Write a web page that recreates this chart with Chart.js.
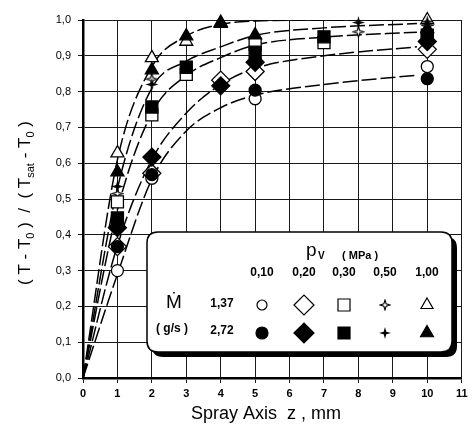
<!DOCTYPE html>
<html>
<head>
<meta charset="utf-8">
<script src="https://cdn.jsdelivr.net/npm/chart.js@4.4.1/dist/chart.umd.min.js"></script>
<style>
  html, body { margin: 0; padding: 0; background: #fff; }
  #wrap { width: 472px; height: 429px; }
</style>
</head>
<body>
<div id="wrap"><canvas id="chart" width="472" height="429"></canvas></div>
<script>
// tick labels
const xTickLabels = ['0', '1', '2', '3', '4', '5', '6', '7', '8', '9', '10', '11'];
const yTickLabels = ['0,0', '0,1', '0,2', '0,3', '0,4', '0,5', '0,6', '0,7', '0,8', '0,9', '1,0'];

// legend labels
const pressureLabels = ['0,10', '0,20', '0,30', '0,50', '1,00'];
const flowLabels = ['1,37', '2,72'];

// measured points, z in mm -> (T - T0)/(Tsat - T0)
const zCircleOpen = [1, 2, 5, 10];
const vCircleOpen = [0.30, 0.558, 0.78, 0.87];
const zCircleFilled = [1, 2, 5, 10];
const vCircleFilled = [0.367, 0.568, 0.804, 0.836];

const zDiamondOpen = [1, 2, 4, 5, 10];
const vDiamondOpen = [0.367, 0.572, 0.832, 0.856, 0.918];
const zDiamondFilled = [1, 2, 4, 5, 10];
const vDiamondFilled = [0.42, 0.617, 0.816, 0.882, 0.94];

const zSquareOpen = [1, 2, 3, 5, 7, 10];
const vSquareOpen = [0.492, 0.735, 0.848, 0.932, 0.937, 0.95];
const zSquareFilled = [1, 2, 3, 5, 7, 10];
const vSquareFilled = [0.447, 0.757, 0.868, 0.91, 0.953, 0.958];

const zStarOpen = [1, 2, 8, 10];
const vStarOpen = [0.515, 0.835, 0.967, 0.985];
const zStarFilled = [1, 2, 8, 10];
const vStarFilled = [0.535, 0.82, 0.993, 0.995];

const zTriangleOpen = [1, 2, 3, 4, 10];
const vTriangleOpen = [0.628, 0.894, 0.94, 0.99, 1.0];
const zTriangleFilled = [1, 2, 3, 4, 5, 10];
const vTriangleFilled = [0.575, 0.86, 0.955, 0.993, 0.958, 0.975];

// dashed fit curves
const curveZ = [0, 1, 2, 3, 4, 5, 7, 9.7];
const curveP010 = [0, 0.29, 0.555, 0.69, 0.755, 0.79, 0.82, 0.846];
const curveP020 = [0, 0.37, 0.61, 0.74, 0.82, 0.865, 0.90, 0.925];
const curveP030 = [0, 0.47, 0.74, 0.845, 0.895, 0.93, 0.952, 0.966];
const curveP050 = [0, 0.53, 0.81, 0.885, 0.925, 0.957, 0.978, 0.99];
const curveP100 = [0, 0.61, 0.87, 0.955, 0.988, 0.997, 1.0, 1.0];

const FONT = '"Liberation Sans", Arial, "DejaVu Sans", sans-serif';

function pts(zs, vs) {
  return zs.map((z, i) => ({ x: z, y: vs[i] }));
}

// 4-pointed star marker as a small canvas
function makeStar(size, filled) {
  const c = document.createElement('canvas');
  c.width = c.height = size;
  const g = c.getContext('2d');
  const m = size / 2, R = size / 2 - 1, r = R * (filled ? 0.3 : 0.33);
  g.beginPath();
  for (let i = 0; i < 8; i++) {
    const a = i * Math.PI / 4 - Math.PI / 2;
    const rr = i % 2 ? r : R;
    g.lineTo(m + rr * Math.cos(a), m + rr * Math.sin(a));
  }
  g.closePath();
  if (filled) {
    g.fillStyle = '#000';
    g.fill();
  } else {
    g.fillStyle = '#fff';
    g.fill();
    g.strokeStyle = '#000';
    g.lineWidth = 1.1;
    g.stroke();
  }
  return c;
}

const starOpen = makeStar(13, false);
const starFilled = makeStar(15, true);
const starOpenSmall = makeStar(12, false);
const starFilledSmall = makeStar(14, true);

function markerSet(zs, vs, style, filled, radius) {
  return {
    type: 'scatter',
    data: pts(zs, vs),
    pointStyle: style,
    pointRadius: radius,
    pointBackgroundColor: filled ? '#000' : '#fff',
    pointBorderColor: '#000',
    pointBorderWidth: 1.3,
    showLine: false,
    clip: 12,
    order: 1
  };
}

function curveSet(vs) {
  return {
    type: 'scatter',
    data: pts(curveZ, vs),
    showLine: true,
    borderColor: '#000',
    borderWidth: 1.5,
    borderDash: [15, 4],
    cubicInterpolationMode: 'monotone',
    pointRadius: 0,
    fill: false,
    order: 2
  };
}

const datasets = [
  curveSet(curveP010), curveSet(curveP020), curveSet(curveP030),
  curveSet(curveP050), curveSet(curveP100),
  markerSet(zCircleFilled, vCircleFilled, 'circle', true, 6),
  markerSet(zDiamondFilled, vDiamondFilled, 'rectRot', true, 9),
  markerSet(zSquareFilled, vSquareFilled, 'rect', true, 8.5),
  markerSet(zStarFilled, vStarFilled, starFilled, true, 7),
  markerSet(zTriangleFilled, vTriangleFilled, 'triangle', true, 7.5),
  markerSet(zCircleOpen, vCircleOpen, 'circle', false, 6),
  markerSet(zDiamondOpen, vDiamondOpen, 'rectRot', false, 9),
  markerSet(zSquareOpen, vSquareOpen, 'rect', false, 8.5),
  markerSet(zStarOpen, vStarOpen, starOpen, false, 6),
  markerSet(zTriangleOpen, vTriangleOpen, 'triangle', false, 7.5)
];

function roundRectPath(ctx, x, y, w, h, r) {
  ctx.beginPath();
  ctx.moveTo(x + r, y);
  ctx.lineTo(x + w - r, y);
  ctx.quadraticCurveTo(x + w, y, x + w, y + r);
  ctx.lineTo(x + w, y + h - r);
  ctx.quadraticCurveTo(x + w, y + h, x + w - r, y + h);
  ctx.lineTo(x + r, y + h);
  ctx.quadraticCurveTo(x, y + h, x, y + h - r);
  ctx.lineTo(x, y + r);
  ctx.quadraticCurveTo(x, y, x + r, y);
  ctx.closePath();
}

function legendMarker(ctx, style, filled, x, y, r) {
  ctx.save();
  ctx.fillStyle = filled ? '#000' : '#fff';
  ctx.strokeStyle = '#000';
  ctx.lineWidth = 1.2;
  Chart.helpers.drawPoint(ctx, { pointStyle: style, radius: r, rotation: 0, borderWidth: 1.2 }, x, y);
  ctx.restore();
}

// draws axis titles (with subscripts) and the boxed key
const annotations = {
  id: 'annotations',
  afterDraw(chart) {
    const ctx = chart.ctx;
    ctx.save();
    ctx.fillStyle = '#000';

    // y title, rotated
    const parts = [
      ['( T - T', 17, 0], ['0', 11, 4], [' )  /  ( T', 17, 0], ['sat', 11, 4],
      [' - T', 17, 0], ['0', 11, 4], [' )', 17, 0]
    ];
    let total = 0;
    parts.forEach(p => { ctx.font = p[1] + 'px ' + FONT; total += ctx.measureText(p[0]).width; });
    ctx.translate(24, 203);
    ctx.rotate(-Math.PI / 2);
    ctx.textBaseline = 'alphabetic';
    ctx.textAlign = 'left';
    let px = -total / 2;
    parts.forEach(p => {
      ctx.font = p[1] + 'px ' + FONT;
      ctx.fillText(p[0], px, 6 + p[2]);
      px += ctx.measureText(p[0]).width;
    });
    ctx.setTransform(1, 0, 0, 1, 0, 0);

    // x title
    ctx.font = '18px ' + FONT;
    ctx.textAlign = 'center';
    ctx.textBaseline = 'middle';
    ctx.fillText('Spray Axis  z , mm', 266, 414);

    // key box with shadow
    const bx = 147, by = 232, bw = 305, bh = 120;
    ctx.fillStyle = '#000';
    roundRectPath(ctx, bx + 5, by + 5, bw, bh, 11);
    ctx.fill();
    ctx.fillStyle = '#fff';
    roundRectPath(ctx, bx, by, bw, bh, 11);
    ctx.fill();
    ctx.strokeStyle = '#000';
    ctx.lineWidth = 1.5;
    ctx.stroke();

    ctx.fillStyle = '#000';
    ctx.textAlign = 'left';
    ctx.textBaseline = 'alphabetic';
    ctx.font = '19px ' + FONT;
    ctx.fillText('p', 306, 256);
    ctx.font = 'bold 10px ' + FONT;
    ctx.fillText('V', 318, 259);
    ctx.font = 'bold 11px ' + FONT;
    ctx.fillText('( MPa )', 342, 259);

    const colX = [262, 304, 344, 385, 427];
    ctx.font = 'bold 12px ' + FONT;
    ctx.textAlign = 'center';
    ctx.textBaseline = 'middle';
    pressureLabels.forEach((t, i) => ctx.fillText(t, colX[i], 273));

    const rowY = [305, 333];
    ctx.fillText(flowLabels[0], 222, 304);
    ctx.fillText(flowLabels[1], 222, 331);
    ctx.fillText('( g/s )', 172, 329);
    ctx.font = '19px ' + FONT;
    ctx.fillText('\u1E40', 174, 303);

    const styles = ['circle', 'rectRot', 'rect', null, 'triangle'];
    const openR = [5, 10, 8.5, 0, 7];
    const fillR = [6, 10, 8.5, 0, 7.5];
    styles.forEach((s, i) => {
      if (s) {
        legendMarker(ctx, s, false, colX[i], rowY[0], openR[i]);
        legendMarker(ctx, s, true, colX[i], rowY[1], fillR[i]);
      } else {
        ctx.drawImage(starOpenSmall, colX[i] - starOpenSmall.width / 2, rowY[0] - starOpenSmall.height / 2);
        ctx.drawImage(starFilledSmall, colX[i] - starFilledSmall.width / 2, rowY[1] - starFilledSmall.height / 2);
      }
    });
    ctx.restore();
  }
};

new Chart(document.getElementById('chart'), {
  type: 'scatter',
  data: { datasets: datasets },
  options: {
    responsive: false,
    devicePixelRatio: 1,
    animation: false,
    layout: { padding: { left: 0, right: 10, top: 20, bottom: 0 } },
    plugins: {
      legend: { display: false },
      tooltip: { enabled: false }
    },
    scales: {
      x: {
        type: 'linear',
        min: 0,
        max: 11,
        afterFit: s => { s.height = 51; },
        afterBuildTicks: s => { s.ticks = xTickLabels.map((t, i) => ({ value: i })); },
        ticks: {
          stepSize: 1,
          autoSkip: false,
          maxRotation: 0,
          padding: 4,
          color: '#000',
          font: { family: FONT, size: 11, weight: 'bold' },
          callback: (v, i) => xTickLabels[i]
        },
        grid: { color: '#1a1a1a', lineWidth: 1, tickLength: 5 },
        border: { color: '#000', width: 2.5 }
      },
      y: {
        type: 'linear',
        min: 0,
        max: 1,
        afterFit: s => { s.width = 83; },
        afterBuildTicks: s => { s.ticks = yTickLabels.map((t, i) => ({ value: i / 10 })); },
        ticks: {
          stepSize: 0.1,
          autoSkip: false,
          padding: 7,
          color: '#000',
          font: { family: FONT, size: 11 },
          callback: (v, i) => yTickLabels[i]
        },
        grid: { color: '#1a1a1a', lineWidth: 1, tickLength: 5 },
        border: { color: '#000', width: 2.5 }
      }
    }
  },
  plugins: [annotations]
});
</script>
</body>
</html>
